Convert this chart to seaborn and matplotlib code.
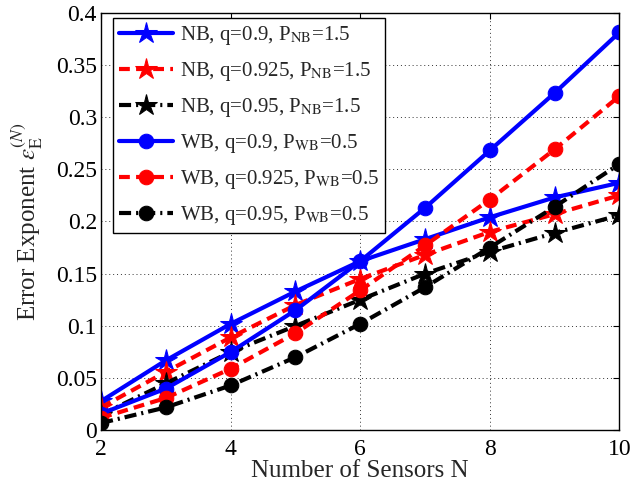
import matplotlib
matplotlib.use("Agg")
import matplotlib.pyplot as plt
import seaborn as sns
import numpy as np

N = [2, 3, 4, 5, 6, 7, 8, 9, 10]
nb_q090 = [0.028, 0.067, 0.102, 0.133, 0.162, 0.183, 0.204, 0.223, 0.237]
nb_q0925 = [0.022, 0.056, 0.089, 0.120, 0.145, 0.168, 0.190, 0.207, 0.225]
nb_q095 = [0.015, 0.045, 0.075, 0.100, 0.125, 0.150, 0.171, 0.189, 0.206]
wb_q090 = [0.016, 0.040, 0.075, 0.115, 0.162, 0.213, 0.268, 0.323, 0.381]
wb_q0925 = [0.012, 0.031, 0.059, 0.093, 0.134, 0.177, 0.221, 0.269, 0.320]
wb_q095 = [0.007, 0.022, 0.043, 0.070, 0.102, 0.137, 0.175, 0.214, 0.255]

labels = [
    r"NB, q=0.9, P$_{\mathrm{NB}}$=1.5",
    r"NB, q=0.925, P$_{\mathrm{NB}}$=1.5",
    r"NB, q=0.95, P$_{\mathrm{NB}}$=1.5",
    r"WB, q=0.9, P$_{\mathrm{WB}}$=0.5",
    r"WB, q=0.925, P$_{\mathrm{WB}}$=0.5",
    r"WB, q=0.95, P$_{\mathrm{WB}}$=0.5",
]
xticks = [2, 4, 6, 8, 10]
yticks = [0, 0.05, 0.1, 0.15, 0.2, 0.25, 0.3, 0.35, 0.4]
ytick_labels = ["0", "0.05", "0.1", "0.15", "0.2", "0.25", "0.3", "0.35", "0.4"]

sns.set_style("white")
plt.rcParams["font.family"] = ["Liberation Serif", "DejaVu Serif"]
plt.rcParams["mathtext.fontset"] = "stix"

fig = plt.figure(figsize=(6.32, 4.83), dpi=100)
ax = fig.add_axes([0.160, 0.109, 0.820, 0.865])

series = [nb_q090, nb_q0925, nb_q095, wb_q090, wb_q0925, wb_q095]
colors = ["#0000ff", "#ff0000", "#000000", "#0000ff", "#ff0000", "#000000"]
styles = ["-", (0, (2.6, 1.5)), (0, (2.9, 1.2, 0.5, 1.2)), "-", (0, (2.6, 1.5)), (0, (2.9, 1.2, 0.5, 1.2))]
markers = ["*", "*", "*", "o", "o", "o"]
msizes = [16, 16, 16, 10.5, 10.5, 10.5]

for vals, c, ls, m, ms, lab in zip(series, colors, styles, markers, msizes, labels):
    sns.lineplot(x=N, y=vals, ax=ax, color=c, linestyle=ls, marker=m,
                 markersize=ms, markeredgecolor=c, markerfacecolor=c,
                 linewidth=3, label=lab, legend=False)

ax.set_xlim(2, 10)
ax.set_ylim(0, 0.4)
ax.set_xticks(xticks)
ax.set_xticklabels([str(t) for t in xticks])
ax.set_yticks(yticks)
ax.set_yticklabels(ytick_labels)
ax.tick_params(direction="in", length=4, width=0.8, labelsize=17,
               top=True, right=True, colors="black")
ax.tick_params(axis="x", pad=6)
ax.tick_params(axis="y", pad=3)
ax.grid(True, linestyle=(0, (1, 3)), color="#333333", linewidth=0.7)
for s in ax.spines.values():
    s.set_visible(True)
    s.set_color("black")
    s.set_linewidth(1.0)

ax.set_xlabel("Number of Sensors N", fontsize=18, labelpad=0)
ax.set_ylabel(r"Error Exponent $\varepsilon_{\mathrm{E}}^{(N)}$", fontsize=18, labelpad=8)

handles, labs = ax.get_legend_handles_labels()
leg = ax.legend(handles, labs, loc="upper left", bbox_to_anchor=(0.023, 0.987),
                fontsize=15, frameon=True, fancybox=False, edgecolor="black",
                framealpha=1, handlelength=2.6, handletextpad=0.3,
                labelspacing=0.62, borderpad=0.3, borderaxespad=0)
leg.get_frame().set_linewidth(1.0)

fig.savefig("out.png", dpi=100)
